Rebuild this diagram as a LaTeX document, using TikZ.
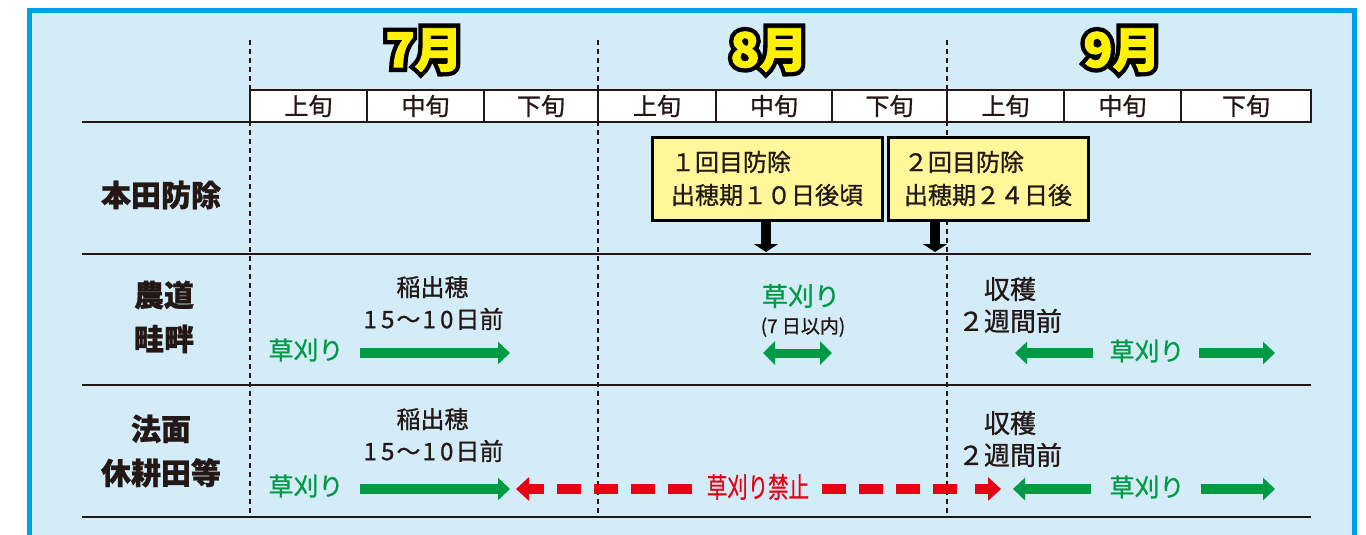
\documentclass[tikz,border=0pt]{standalone}
\usepackage{fontspec}
\setmainfont{Noto Sans CJK JP}[FakeBold=0.9]
\newfontfamily\monthout{Noto Sans CJK JP}[FakeBold=20]
\newfontfamily\monthin{Noto Sans CJK JP}[FakeBold=2]
\usetikzlibrary{arrows.meta,calc}
\definecolor{frameblue}{HTML}{00A0E9}
\definecolor{bgblue}{HTML}{D4EBF8}
\definecolor{inkc}{HTML}{231815}
\definecolor{grn}{HTML}{009944}
\definecolor{rd}{HTML}{E60012}
\definecolor{boxy}{HTML}{FFF799}
\definecolor{monthy}{HTML}{FFF100}
\newcommand{\dg}[1]{\makebox[17.5pt]{#1}}
\begin{document}
\begin{tikzpicture}[x=1pt,y=-1pt,
  hline/.style={line width=1.5pt, draw=inkc},
  vdash/.style={line width=1.4pt, draw=inkc, dash pattern=on 5pt off 4pt},
  hdr/.style={inner sep=0pt, text=inkc, font=\fontsize{24}{24}\selectfont},
  rowlab/.style={inner sep=0pt, text=inkc, align=center, font=\fontsize{30}{44}\selectfont\bfseries},
  note/.style={inner sep=0pt, text=inkc, align=center, font=\fontsize{24}{32}\selectfont},
  notebig/.style={inner sep=0pt, text=inkc, align=center, font=\fontsize{26}{32}\selectfont},
  gtext/.style={inner sep=0pt, text=grn, font=\fontsize{25}{25}\selectfont},
  garrow/.style={draw=grn, line width=10pt, -{Triangle[width=22pt,length=12pt]}},
  gdouble/.style={draw=grn, line width=9pt, {Triangle[width=23pt,length=12pt]}-{Triangle[width=23pt,length=12pt]}},
  rarrow/.style={draw=rd, line width=10pt, -{Triangle[width=23pt,length=13pt]}},
  rdash/.style={draw=rd, line width=10pt, dash pattern=on 24pt off 13pt},
  karrow/.style={draw=black, line width=10pt, -{Triangle[width=24pt,length=8pt]}},
  notebox/.style={draw=black, line width=3pt, fill=boxy, inner sep=0pt, align=left, text=inkc, font=\fontsize{24}{33}\selectfont},
  monthback/.style={inner sep=0pt, text=black, font=\fontsize{48}{48}\selectfont\monthout\bfseries},
  monthfront/.style={inner sep=0pt, text=monthy, font=\fontsize{48}{48}\selectfont\monthin\bfseries},
]
\useasboundingbox (0,0) rectangle (1366,535);
\fill[white] (0,0) rectangle (1366,535);
% frame
\draw[line width=5pt, draw=frameblue, fill=bgblue] (29.5,10.5) rectangle (1354.5,560);

% month dashed separators
\foreach \xx in {250,598,947} \draw[vdash] (\xx,40) -- (\xx,517);

% header row
\filldraw[fill=white, draw=inkc, line width=1.5pt] (250,90) rectangle (1311,122);
\foreach \xx in {367,484,598,716,832,947,1064,1181} \draw[hline] (\xx,90) -- (\xx,122);
\node[hdr] (h1) at (308.5,106) {上旬};
\node[hdr] (h2) at (425.5,106) {中旬};
\node[hdr] (h3) at (541,106) {下旬};
\node[hdr] (h4) at (657,106) {上旬};
\node[hdr] (h5) at (774,106) {中旬};
\node[hdr] (h6) at (889.5,106) {下旬};
\node[hdr] (h7) at (1005.5,106) {上旬};
\node[hdr] (h8) at (1122.5,106) {中旬};
\node[hdr] (h9) at (1246,106) {下旬};

% horizontal rules
\foreach \yy in {122,254,385,517} \draw[hline] (82,\yy) -- (1311,\yy);

% month labels (outlined)
\foreach \mx/\mt/\mn in {424/7月/m7, 769/8月/m8, 1122/9月/m9} {
  \node[monthback] (\mn b) at (\mx,50) {\mt};
  \node[monthfront] (\mn) at (\mx,50) {\mt};
}

% row labels
\node[rowlab] (r1) at (161,195) {本田防除};
\node[rowlab] (r2) at (164,317) {農道\\畦畔};
\node[rowlab] (r3) at (161,451) {法面\\休耕田等};

% spraying boxes
\node[notebox, minimum width=230pt, minimum height=83pt] (b1) at (767,178.5) {１回目防除\\出穂期１０日後頃};
\node[notebox, minimum width=200pt, minimum height=83pt] (b2) at (988,178.5) {２回目防除\\出穂期２４日後};
\coordinate (b1t) at (766,252);
\coordinate (b2t) at (935,252);
\draw[karrow] (b1.south -| b1t) -- (b1t);
\draw[karrow] (b2.south -| b2t) -- (b2t);

% row 2: 農道畦畔
\node[note] (n21) at (432.5,303) {稲出穂\\\dg{1}\dg{5}～\dg{1}\dg{0}日前};
\node[gtext] (g21) at (306,350) {草刈り};
\coordinate (a21s) at (360,353);
\coordinate (a21e) at (510,353);
\draw[garrow] (a21s) -- (a21e);
\node[gtext, font=\fontsize{26}{26}\selectfont] (g22) at (801,296) {草刈り};
\node[inner sep=0pt, text=inkc, font=\fontsize{19}{19}\selectfont] (n22) at (803,327) {(7 日以内)};
\coordinate (a22s) at (763,353);
\coordinate (a22e) at (832,353);
\draw[gdouble] (a22s) -- (a22e);
\node[notebig] (n23) at (1010,305) {収穫\\２週間前};
\node[gtext] (g23) at (1147,351) {草刈り};
\coordinate (a23s) at (1093,353);
\coordinate (a23e) at (1015,353);
\coordinate (a24s) at (1199,353);
\coordinate (a24e) at (1275,353);
\draw[garrow] (a23s) -- (a23e);
\draw[garrow] (a24s) -- (a24e);

% row 3: 法面休耕田等
\node[note] (n31) at (432.5,435) {稲出穂\\\dg{1}\dg{5}～\dg{1}\dg{0}日前};
\node[gtext] (g31) at (306,486) {草刈り};
\coordinate (a31s) at (360,489);
\coordinate (a31e) at (510,489);
\draw[garrow] (a31s) -- (a31e);
\node[notebig] (n33) at (1010,439) {収穫\\２週間前};
\node[gtext] (g33) at (1147,487) {草刈り};
\coordinate (a33s) at (1091,489);
\coordinate (a33e) at (1013,489);
\coordinate (a34s) at (1201,489);
\coordinate (a34e) at (1275,489);
\draw[garrow] (a33s) -- (a33e);
\draw[garrow] (a34s) -- (a34e);

% red: no mowing
\node[inner sep=0pt, text=rd, font=\fontsize{28}{28}\selectfont] (rk) at (758,487) {\scalebox{0.73}[1]{草刈り禁止}};
\coordinate (rl1) at (544,489);
\coordinate (rl0) at (516,489);
\coordinate (rd1) at (557,489);
\coordinate (rd2) at (694,489);
\coordinate (rd3) at (822,489);
\coordinate (rd4) at (960,489);
\coordinate (rr1) at (975,489);
\coordinate (rr0) at (1001,489);
\draw[rarrow] (rl1) -- (rl0);
\draw[rdash] (rd1) -- (rd2);
\draw[rdash] (rd3) -- (rd4);
\draw[rarrow] (rr1) -- (rr0);
\end{tikzpicture}
\end{document}
